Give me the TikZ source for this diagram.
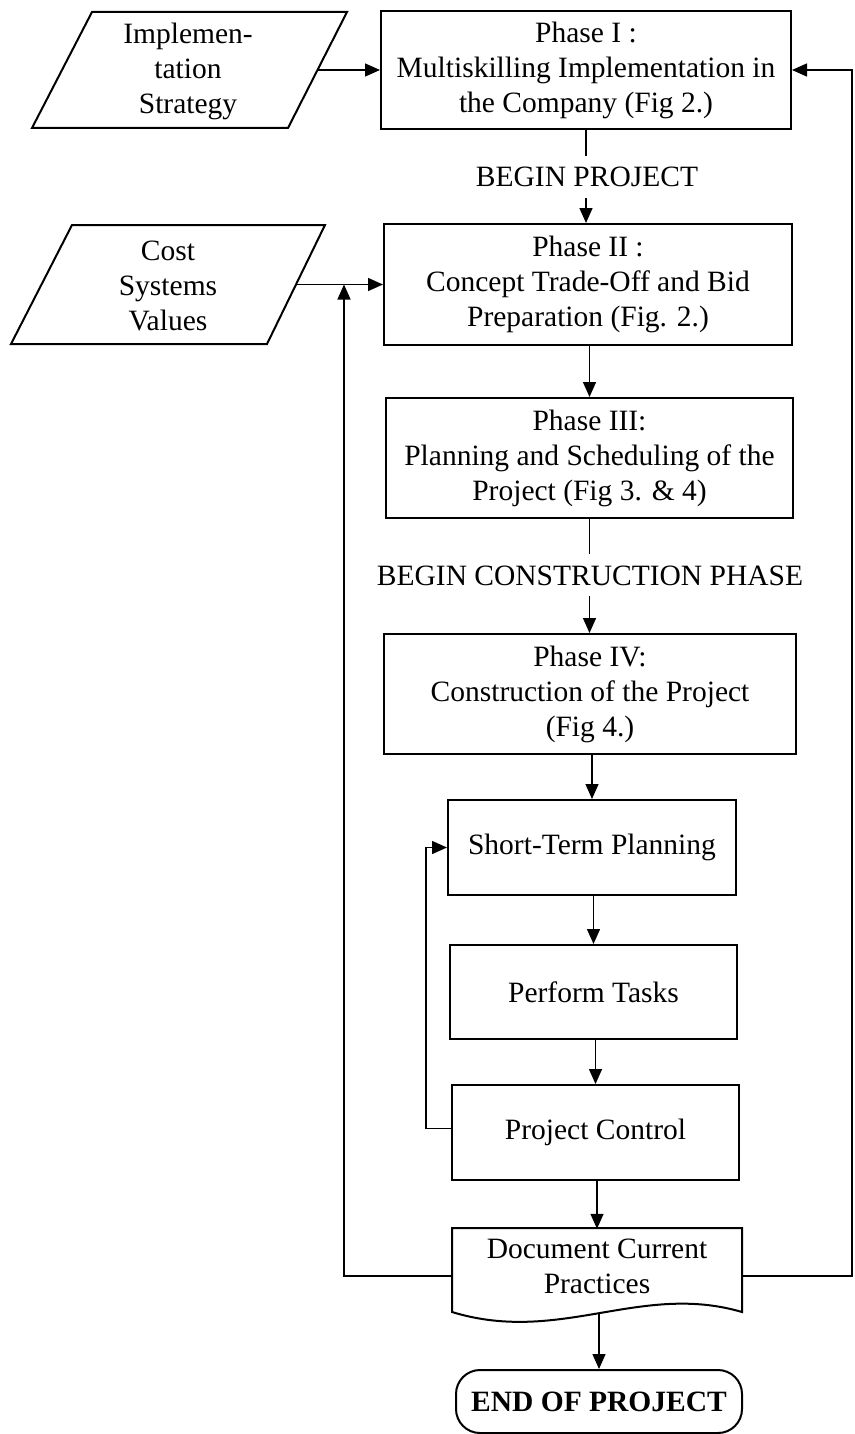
\documentclass[tikz,border=0pt]{standalone}
\usepackage{fontspec}
\setmainfont{Liberation Serif}
\usetikzlibrary{arrows.meta,calc}
\begin{document}
\begin{tikzpicture}[x=1pt,y=-1pt,
  txt/.style={font=\fontsize{29.5pt}{35pt}\selectfont, align=center},
  box/.style={txt, draw, line width=2pt, inner sep=0pt},
  endbox/.style={box, rounded corners=24pt, font=\fontsize{29.5pt}{35pt}\selectfont\bfseries},
  conn/.style={line width=1.4pt},
  arr/.style={conn, -{Triangle[length=15pt,width=13pt]}},
  shp/.style={line width=2pt, line join=miter},
  lbl/.style={txt, text height=20pt, text depth=0pt, inner xsep=0pt, inner ysep=11pt}
]
\useasboundingbox (0,0) rectangle (854,1434);

% input parallelograms
\draw[shp] (92,12) -- (347,12) -- (288,128) -- (32,128) -- cycle;
\node[txt] (impl) at (188,71) {Implemen-\\tation\\Strategy};

\draw[shp] (72,225) -- (325,225) -- (267,344) -- (11,344) -- cycle;
\node[txt] (cost) at (168,286) {Cost\\Systems\\Values};

% main column
\node[box, minimum width=410pt, minimum height=118pt] (p1) at (586,70)
  {Phase I :\\Multiskilling Implementation in\\the Company (Fig 2.)};
\node[lbl] (bp) at (587,177) {BEGIN PROJECT};
\node[box, minimum width=408pt, minimum height=121pt] (p2) at (588,284.5)
  {Phase II :\\Concept Trade-Off and Bid\\Preparation (Fig. 2.)};
\node[box, minimum width=407pt, minimum height=120pt] (p3) at (589.5,458)
  {Phase III:\\Planning and Scheduling of the\\Project (Fig 3. \& 4)};
\node[lbl] (bc) at (590,575) {BEGIN CONSTRUCTION PHASE};
\node[box, minimum width=412pt, minimum height=120pt] (p4) at (590,694)
  {Phase IV:\\Construction of the Project\\(Fig 4.)};

\node[box, minimum width=288pt, minimum height=95pt] (st) at (592,847.5) {Short-Term Planning};
\node[box, minimum width=287pt, minimum height=94pt] (pt) at (593.5,992) {Perform Tasks};
\node[box, minimum width=287pt, minimum height=95pt] (pc) at (595.5,1132.5) {Project Control};

% document shape
\draw[shp] (452,1228) -- (742,1228) -- (742,1312)
  .. controls (640,1282) and (560,1345) .. (452,1312) -- cycle;
\node[txt, minimum width=290pt, minimum height=74pt, inner sep=0pt] (doc) at (597,1266)
  {Document Current\\Practices};

\node[endbox, minimum width=286pt, minimum height=63pt] (end) at (599,1401.5) {END OF PROJECT};

% free connector ends
\coordinate (implR) at (317,70);
\coordinate (costR) at (296,284.5);
\coordinate (costJ) at (344,284.5);
\coordinate (docB) at (599,1313);
\coordinate (rc) at (852,1276);

% connectors
\draw[arr] (implR) -- (p1.west);
\draw[arr] (costR) -- (p2.west);
\draw[conn] (p1.south) -- (p1.south |- bp.north);
\draw[arr] (bp.south -| p1.south) -- (p1.south |- p2.north);
\draw[arr] (p2.south -| p3.north) -- (p3.north);
\draw[conn] (p3.south) -- (p3.south |- bc.north);
\draw[arr] (bc.south -| p3.south) -- (p3.south |- p4.north);
\draw[arr] (p4.south -| st.north) -- (st.north);
\draw[arr] (st.south -| pt.north) -- (pt.north);
\draw[arr] (pt.south -| pc.north) -- (pc.north);
\draw[arr] (pc.south -| doc.north) -- (doc.north);
\draw[arr] (docB) -- (docB |- end.north);
\draw[arr] ([yshift=4pt]pc.west) -- ++(-25,0) |- (st.west);
\draw[arr] ([yshift=-10pt]doc.west) -| (costJ);
\draw[arr] ([yshift=-10pt]doc.east) -- (rc) |- (p1.east);
\end{tikzpicture}
\end{document}
